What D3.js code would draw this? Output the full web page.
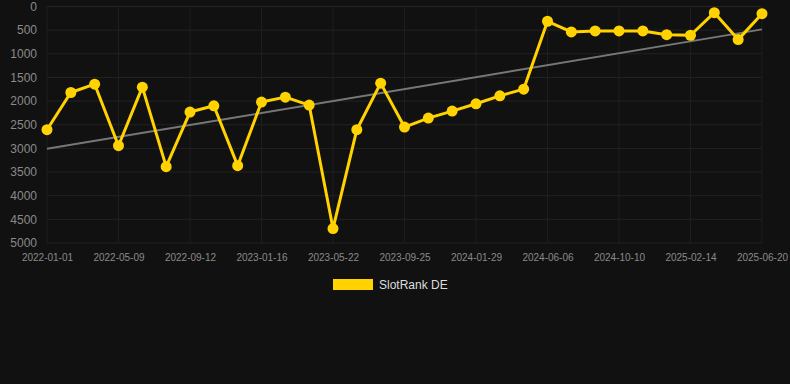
<!DOCTYPE html>
<html>
<head>
<meta charset="utf-8">
<script src="https://cdn.jsdelivr.net/npm/d3@7"></script>
<style>
  body { margin: 0; background: #111111; }
  svg { display: block; font-family: "Liberation Sans", Arial, sans-serif; }
</style>
</head>
<body>
<div id="chart"></div>
<script>

// Dates of the measurements (every third one gets a label)
var dates = ["2022-01-01", "2022-02-13", "2022-03-28", "2022-05-09", "2022-06-20", "2022-08-01",
  "2022-09-12", "2022-10-24", "2022-12-05", "2023-01-16", "2023-02-27", "2023-04-10",
  "2023-05-22", "2023-07-03", "2023-08-14", "2023-09-25", "2023-11-06", "2023-12-18",
  "2024-01-29", "2024-03-11", "2024-04-23", "2024-06-06", "2024-07-18", "2024-08-29",
  "2024-10-10", "2024-11-21", "2025-01-02", "2025-02-14", "2025-03-28", "2025-05-09",
  "2025-06-20"];

// SlotRank DE values
var ranks = [2605, 1818, 1642, 2943, 1705, 3386, 2232, 2099, 3365, 2021, 1916, 2084,
  4694, 2605, 1620, 2549, 2359, 2211, 2057, 1888, 1747, 312, 538, 517,
  517, 517, 595, 608, 131, 700, 152];

var yTicks = [0, 500, 1000, 1500, 2000, 2500, 3000, 3500, 4000, 4500, 5000];
var seriesName = "SlotRank DE";

var svgW = 790, svgH = 384;
var margin = {left: 47, right: 28, top: 6.5, bottom: 141};
var dataW = svgW - margin.left - margin.right;
var dataH = svgH - margin.top - margin.bottom;

var svg = d3.select("#chart")
  .append("svg")
    .attr("width", svgW)
    .attr("height", svgH);

svg.append("rect")
  .attr("width", svgW)
  .attr("height", svgH)
  .attr("fill", "#111111");

var xScale = d3.scalePoint()
  .domain(dates)
  .range([0, dataW]);

var yScale = d3.scaleLinear()
  .domain([0, 5000])
  .range([0, dataH]);

var g = svg.append("g")
  .attr("transform", "translate(" + margin.left + "," + margin.top + ")");

var labelDates = dates.filter(function(d, i) { return i % 3 == 0; });

// Grid lines
g.selectAll(".hgrid")
  .data(yTicks)
  .enter()
  .append("line")
    .attr("x1", 0)
    .attr("x2", dataW)
    .attr("y1", function(d) { return yScale(d); })
    .attr("y2", function(d) { return yScale(d); })
    .attr("stroke", "#232323")
    .attr("stroke-width", 1);

g.selectAll(".vgrid")
  .data(labelDates)
  .enter()
  .append("line")
    .attr("x1", function(d) { return xScale(d); })
    .attr("x2", function(d) { return xScale(d); })
    .attr("y1", 0)
    .attr("y2", dataH)
    .attr("stroke", "#1e1e1e")
    .attr("stroke-width", 1);

// Y axis
var yAxis = d3.axisLeft(yScale)
  .tickValues(yTicks)
  .tickFormat(d3.format("d"))
  .tickSize(0)
  .tickPadding(10);
var yG = g.append("g").call(yAxis);
yG.select(".domain").remove();
yG.selectAll("text")
  .attr("fill", "#8a8a8a")
  .style("font-size", "12px");

// X axis
var xAxis = d3.axisBottom(xScale).tickValues(labelDates).tickSize(0).tickPadding(11);
var xG = g.append("g")
  .attr("transform", "translate(0," + dataH + ")")
  .call(xAxis);
xG.select(".domain").remove();
xG.selectAll("text")
  .attr("fill", "#8a8a8a")
  .style("font-size", "10px");

// Trend line (least squares)
var n = ranks.length;
var meanX = d3.mean(ranks, function(d, i) { return i; });
var meanY = d3.mean(ranks);
var sxy = d3.sum(ranks, function(d, i) { return (i - meanX) * (d - meanY); });
var sxx = d3.sum(ranks, function(d, i) { return (i - meanX) * (i - meanX); });
var slope = sxy / sxx;
var intercept = meanY - slope * meanX;

g.append("line")
  .attr("x1", xScale(dates[0]))
  .attr("x2", xScale(dates[n - 1]))
  .attr("y1", yScale(intercept))
  .attr("y2", yScale(intercept + slope * (n - 1)))
  .attr("stroke", "#777777")
  .attr("stroke-width", 2);

// Series line
var line = d3.line()
  .x(function(d, i) { return xScale(dates[i]); })
  .y(function(d) { return yScale(d); });

g.append("path")
  .datum(ranks)
  .attr("d", line)
  .attr("fill", "none")
  .attr("stroke", "#ffd200")
  .attr("stroke-width", 3)
  .attr("stroke-linejoin", "round");

g.selectAll(".dot")
  .data(ranks)
  .enter()
  .append("circle")
    .attr("cx", function(d, i) { return xScale(dates[i]); })
    .attr("cy", function(d) { return yScale(d); })
    .attr("r", 5.5)
    .attr("fill", "#ffd200");

// Legend
var legend = svg.append("g")
  .attr("transform", "translate(333,279)");

legend.append("rect")
  .attr("width", 40)
  .attr("height", 11)
  .attr("fill", "#ffd200");

legend.append("text")
  .attr("x", 46)
  .attr("y", 9.5)
  .attr("fill", "#dddddd")
  .style("font-size", "12px")
  .text(seriesName);

</script>
</body>
</html>
